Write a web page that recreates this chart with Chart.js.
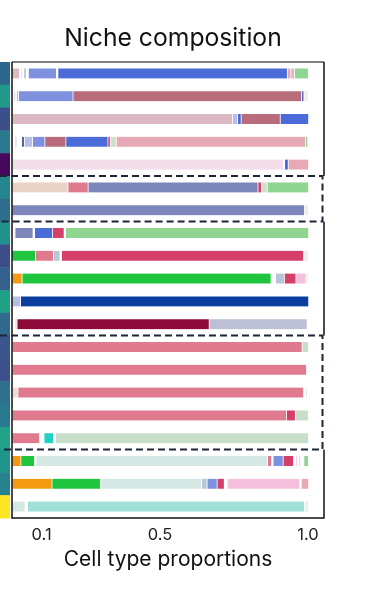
<!DOCTYPE html>
<html>
<head>
<meta charset="utf-8">
<script src="https://cdn.jsdelivr.net/npm/chart.js@4.4.1/dist/chart.umd.min.js"></script>
<style>
  html, body { margin: 0; padding: 0; background: #fff; }
  #wrap { width: 370px; height: 589px; }
</style>
</head>
<body>
<div id="wrap"><canvas id="graficoNichos"></canvas></div>
<script>
// niches, top to bottom
const niches = ['N1','N2','N3','N4','N5','N6','N7','N8','N9','N10',
                'N11','N12','N13','N14','N15','N16','N17','N18','N19','N20'];

// cell type of each segment, left to right, per niche
const cellTypes = [
  ['lightpink','gap','lightgray','gap','lavender','gap','periwinkle','gap','blue','pink','lightpink','green'],
  ['gap','lightgray','gap','lavender','periwinkle','mauve','blue','pale'],
  ['lightpink','lavender','blue','mauve','blue'],
  ['gap','lightgray','gap','dslate','lavender','periwinkle','mauve','blue','crimson','lightgreen','pink','green'],
  ['palepink','gap','blue','pink'],
  ['beige','rosered','slate','crimson','lightgreen','green'],
  ['slate','pale'],
  ['gap','slate','gap','blue','crimson','gap','green'],
  ['vgreen','rosered','lightslate','gap','crimson','pale'],
  ['orange','vgreen','gap','lightslate','crimson','lilac','pale'],
  ['lavender','navy'],
  ['gap','blush','darkcrimson','lavgray','gap'],
  ['rosered','sage'],
  ['rosered','gap'],
  ['blush','rosered','gap','lightgray','gap'],
  ['rosered','crimson','sage'],
  ['rosered','gap','turq','gap','sage'],
  ['orange','vgreen','gap','mint','rosered','gap','periwinkle','crimson','gap','lilac','gap','lilac','gap','green'],
  ['orange','vgreen','mint','lightslate','periwinkle','crimson','gap','lightgray','lilac','gap','pink'],
  ['mint','gap','aqua','pale']
];

// proportion of each segment, same order as cellTypes
const proportions = [
  [0.025,0.005,0.005,0.005,0.008,0.007,0.095,0.005,0.775,0.012,0.012,0.047],
  [0.005,0.007,0.003,0.007,0.184,0.772,0.008,0.015],
  [0.745,0.017,0.012,0.132,0.096],
  [0.010,0.007,0.015,0.010,0.027,0.042,0.071,0.142,0.008,0.020,0.639,0.008],
  [0.916,0.005,0.012,0.069],
  [0.189,0.068,0.574,0.012,0.019,0.140],
  [0.988,0.013],
  [0.010,0.061,0.005,0.061,0.039,0.005,0.821],
  [0.079,0.061,0.022,0.005,0.818,0.017],
  [0.034,0.841,0.015,0.030,0.039,0.034,0.008],
  [0.029,0.973],
  [0.010,0.007,0.649,0.331,0.005],
  [0.980,0.022],
  [0.995,0.007],
  [0.020,0.965,0.007,0.005,0.005],
  [0.927,0.030,0.044],
  [0.093,0.015,0.032,0.007,0.855],
  [0.030,0.046,0.005,0.782,0.014,0.005,0.034,0.035,0.008,0.005,0.005,0.005,0.012,0.015],
  [0.135,0.164,0.341,0.019,0.034,0.024,0.007,0.005,0.243,0.005,0.025],
  [0.044,0.008,0.936,0.014]
];

const tickValues = [0.1, 0.5, 1.0];

// highlighted niche groups (first and last row, 1-based)
const boxedNiches = [[6, 7], [13, 17]];

const coresTipo = {
  gap: '#ffffff', pale: '#eef0ee', lightgray: '#dcdce6', lavender: '#b6bde6',
  periwinkle: '#7d91de', blue: '#4b6bd9', navy: '#0b3f9f', dslate: '#5c6292',
  slate: '#7d86ba', lavgray: '#bdbfd4', lightslate: '#b9c6d8',
  lightpink: '#dcb8c2', pink: '#e7a9b6', palepink: '#f2dde8', blush: '#f1d8d8',
  rosered: '#e07a8f', crimson: '#d5406b', darkcrimson: '#8c0a38', mauve: '#b86b7b',
  lilac: '#f4c0dc', beige: '#e8d4c6', orange: '#f29b12',
  green: '#8fd490', vgreen: '#1fc43f', lightgreen: '#cbe2c6', sage: '#c9dec9',
  mint: '#d6e8e4', aqua: '#a0e0d8', turq: '#22d0c6'
};

const coresNicho = ['#2d668d','#1f9a8a','#3b4f8b','#2b798e','#46085c','#24868e','#2e6e8e',
  '#21918c','#3d4d8a','#355f8d','#1fa187','#306a8e','#3a548c','#3c508b','#2d718e',
  '#29798e','#20a386','#1f968b','#26828e','#fde725'];

const fonte = 'Inter, "Noto Sans", sans-serif';

function montarDatasets() {
  const maxSeg = Math.max(...proportions.map(r => r.length));
  const out = [];
  for (let k = 0; k < maxSeg; k++) {
    out.push({
      data: proportions.map(r => (k < r.length ? r[k] : null)),
      backgroundColor: cellTypes.map(r => (k < r.length ? coresTipo[r[k]] : '#fff')),
      borderColor: '#ffffff',
      borderWidth: { left: 0.7, right: 0.7, top: 0, bottom: 0 },
      borderSkipped: false,
      barThickness: 10
    });
  }
  return out;
}

const moldura = {
  id: 'moldura',
  afterDatasetsDraw(chart) {
    const { ctx, chartArea: a, scales: { y } } = chart;
    const banda = (a.bottom - a.top) / niches.length;
    ctx.save();
    // title
    ctx.fillStyle = '#111';
    ctx.font = '24.7px ' + fonte;
    ctx.textAlign = 'center';
    ctx.textBaseline = 'middle';
    ctx.fillText('Niche composition', 173, 38.5);
    // niche colour strip
    niches.forEach((n, i) => {
      const yc = y.getPixelForValue(i);
      ctx.fillStyle = coresNicho[i];
      ctx.fillRect(0, yc - banda / 2, a.left - 2, banda + 0.5);
    });
    // frame
    ctx.lineWidth = 1.5;
    ctx.strokeStyle = '#555';
    ctx.beginPath(); ctx.moveTo(a.left, a.top); ctx.lineTo(a.right, a.top); ctx.stroke();
    ctx.strokeStyle = '#111';
    ctx.beginPath();
    ctx.moveTo(a.right, a.top); ctx.lineTo(a.right, a.bottom);
    ctx.lineTo(a.left, a.bottom); ctx.lineTo(a.left, a.top);
    ctx.stroke();
    // dashed boxes
    boxedNiches.forEach(([i0, i1]) => {
      const yt = y.getPixelForValue(i0 - 1) - banda / 2;
      const yb = y.getPixelForValue(i1 - 1) + banda / 2;
      ctx.fillStyle = '#fff';
      ctx.fillRect(a.right - 3, yt, 6, yb - yt);
      ctx.setLineDash([7, 4]);
      ctx.lineWidth = 2;
      ctx.strokeStyle = '#1c2636';
      ctx.beginPath();
      ctx.moveTo(0, yt); ctx.lineTo(a.right - 1.5, yt); ctx.lineTo(a.right - 1.5, yb); ctx.lineTo(0, yb);
      ctx.stroke();
      ctx.setLineDash([]);
    });
    ctx.restore();
  }
};

new Chart(document.getElementById('graficoNichos'), {
  type: 'bar',
  data: { labels: niches, datasets: montarDatasets() },
  options: {
    indexAxis: 'y',
    responsive: true,
    maintainAspectRatio: false,
    animation: false,
    layout: { padding: { left: 12, right: 46, top: 62, bottom: 16.4 } },
    plugins: {
      legend: { display: false },
      tooltip: { enabled: false },
      title: { display: false }
    },
    scales: {
      x: {
        stacked: true,
        min: 0,
        max: 1.054,
        afterBuildTicks: s => { s.ticks = tickValues.map(v => ({ value: v })); },
        ticks: {
          callback: v => Number(v).toFixed(1),
          color: '#222',
          font: { family: fonte, size: 16.5 },
          padding: 7,
          autoSkip: false,
          maxRotation: 0
        },
        grid: { display: false, drawTicks: false },
        border: { display: false },
        title: {
          display: true,
          text: 'Cell type proportions',
          color: '#111',
          font: { family: fonte, size: 21 },
          padding: { top: -4.4, bottom: 0 }
        }
      },
      y: { stacked: true, display: false }
    }
  },
  plugins: [moldura]
});
</script>
</body>
</html>
